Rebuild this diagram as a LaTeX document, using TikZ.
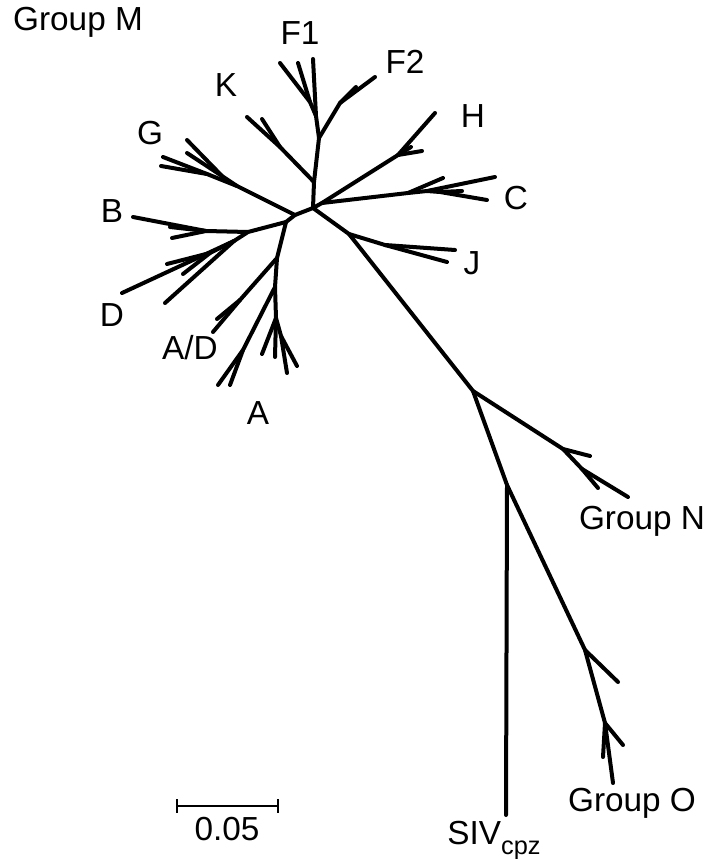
\documentclass[tikz,border=0pt]{standalone}
\usepackage{fontspec}
\setmainfont{Liberation Sans}
\begin{document}
\begin{tikzpicture}[x=0.75pt,y=-0.75pt,
  br/.style={line width=3pt,line cap=round,line join=round},
  lab/.style={inner sep=0pt,font=\fontsize{25}{29}\selectfont},
  scl/.style={line width=1.6pt}]
\useasboundingbox (0,0) rectangle (710,859);
% internal nodes
\coordinate (C0) at (313,208);
\coordinate (Gj) at (295,215);
\coordinate (C1) at (286,222);
\coordinate (Kn) at (314,182);
\coordinate (Fn) at (319,138);
\coordinate (F1n) at (316,116);
\coordinate (f1a) at (310,102);
\coordinate (f2a) at (340,103);
\coordinate (k1) at (280,147);
\coordinate (g0) at (237,186);
\coordinate (g1) at (222,176);
\coordinate (g2) at (207,174);
\coordinate (BD) at (248,232);
\coordinate (b1) at (206,231);
\coordinate (d0) at (234,241);
\coordinate (d1) at (210,253);
\coordinate (a0) at (277,258);
\coordinate (ad0) at (240,300);
\coordinate (a1) at (275,287);
\coordinate (a2) at (243,350);
\coordinate (a3) at (276,318);
\coordinate (a4) at (281,336);
\coordinate (hc) at (322,203);
\coordinate (h0) at (398,155);
\coordinate (c0) at (408,193);
\coordinate (c1) at (427,191);
\coordinate (c2) at (440,192);
\coordinate (j0) at (349,234);
\coordinate (j1) at (385,245);
\coordinate (NO) at (473,391);
\coordinate (n0) at (563,449);
\coordinate (n1) at (582,469);
\coordinate (so) at (507,485);
\coordinate (o0) at (585,650);
\coordinate (o1) at (605,723);
% leaves
\coordinate (lf1a) at (280,63);
\coordinate (lf1b) at (298,63);
\coordinate (lf1c) at (313,59);
\coordinate (lf2a) at (375,77);
\coordinate (lf2b) at (356,87);
\coordinate (lka) at (247,117);
\coordinate (lkb) at (262,119);
\coordinate (lga) at (187,140);
\coordinate (lgb) at (187,153);
\coordinate (lgc) at (163,157);
\coordinate (lgd) at (161,166);
\coordinate (lba) at (133,217);
\coordinate (lbb) at (170,227);
\coordinate (lbc) at (172,238);
\coordinate (lda) at (122,293);
\coordinate (ldb) at (167,264);
\coordinate (ldc) at (183,274);
\coordinate (ldd) at (165,303);
\coordinate (lada) at (217,319);
\coordinate (ladb) at (213,332);
\coordinate (laa) at (218,385);
\coordinate (lab) at (230,385);
\coordinate (lac) at (262,354);
\coordinate (lad) at (275,357);
\coordinate (lae) at (287,373);
\coordinate (laf) at (297,366);
\coordinate (lha) at (435,113);
\coordinate (lhb) at (422,151);
\coordinate (lhc) at (411,147);
\coordinate (lca) at (443,178);
\coordinate (lcb) at (495,177);
\coordinate (lcc) at (462,191);
\coordinate (lcd) at (487,200);
\coordinate (lja) at (455,250);
\coordinate (ljb) at (447,262);
\coordinate (lna) at (590,456);
\coordinate (lnb) at (598,488);
\coordinate (lnc) at (628,497);
\coordinate (lsiv) at (506,815);
\coordinate (loa) at (618,682);
\coordinate (lob) at (623,745);
\coordinate (loc) at (603,757);
\coordinate (lod) at (613,783);
% branches
\draw[br] (C1) -- (Gj) -- (C0) -- (Kn) -- (Fn) -- (F1n) -- (lf1c);
\draw[br] (F1n) -- (f1a) -- (lf1a);
\draw[br] (f1a) -- (lf1b);
\draw[br] (Fn) -- (f2a) -- (lf2a);
\draw[br] (f2a) -- (lf2b);
\draw[br] (Kn) -- (k1) -- (lka);
\draw[br] (k1) -- (lkb);
\draw[br] (Gj) -- (g0) -- (g1) -- (lga);
\draw[br] (g1) -- (lgb);
\draw[br] (g0) -- (g2) -- (lgc);
\draw[br] (g2) -- (lgd);
\draw[br] (C1) -- (BD) -- (b1) -- (lba);
\draw[br] (b1) -- (lbb);
\draw[br] (b1) -- (lbc);
\draw[br] (BD) -- (d0) -- (lda);
\draw[br] (d0) -- (d1) -- (ldb);
\draw[br] (d1) -- (ldc);
\draw[br] (d0) -- (ldd);
\draw[br] (C1) -- (a0) -- (ad0) -- (ladb);
\draw[br] (ad0) -- (lada);
\draw[br] (a0) -- (a1) -- (a2) -- (laa);
\draw[br] (a2) -- (lab);
\draw[br] (a1) -- (a3) -- (lac);
\draw[br] (a3) -- (lad);
\draw[br] (a3) -- (a4) -- (lae);
\draw[br] (a4) -- (laf);
\draw[br] (C0) -- (hc) -- (h0) -- (lha);
\draw[br] (h0) -- (lhb);
\draw[br] (h0) -- (lhc);
\draw[br] (hc) -- (c0) -- (lca);
\draw[br] (c0) -- (c1) -- (lcb);
\draw[br] (c1) -- (c2) -- (lcc);
\draw[br] (c2) -- (lcd);
\draw[br] (C0) -- (j0) -- (j1) -- (lja);
\draw[br] (j1) -- (ljb);
\draw[br] (j0) -- (NO) -- (n0) -- (lna);
\draw[br] (n0) -- (n1) -- (lnb);
\draw[br] (n1) -- (lnc);
\draw[br] (NO) -- (so) -- (lsiv);
\draw[br] (so) -- (o0) -- (loa);
\draw[br] (o0) -- (o1) -- (lob);
\draw[br] (o1) -- (loc);
\draw[br] (o1) -- (lod);
% labels
\node[lab] (tGM) at (78,22) {Group M};
\node[lab] (tF1) at (300,33) {F1};
\node[lab] (tF2) at (405,62) {F2};
\node[lab] (tK) at (226,85) {K};
\node[lab] (tH) at (473,116) {H};
\node[lab] (tG) at (150,133) {G};
\node[lab] (tC) at (516,198) {C};
\node[lab] (tB) at (112,211) {B};
\node[lab] (tJ) at (472,263) {J};
\node[lab] (tD) at (112,315) {D};
\node[lab] (tAD) at (190,348) {A/D};
\node[lab] (tA) at (258,413) {A};
\node[lab] (tGN) at (642,521) {Group N};
\node[lab] (tGO) at (632,803) {Group O};
\node[lab,anchor=base] (tSIV) at (494,844) {SIV\raisebox{-0.3em}{\fontsize{19}{22}\selectfont cpz}};
% scale bar
\coordinate (sb1) at (177,806);
\coordinate (sb2) at (278,806);
\draw[scl] (sb1) -- (sb2);
\draw[scl] ([yshift=-5pt]sb1) -- ([yshift=5pt]sb1);
\draw[scl] ([yshift=-5pt]sb2) -- ([yshift=5pt]sb2);
\node[lab] (tsc) at (227,829) {0.05};
\end{tikzpicture}
\end{document}
